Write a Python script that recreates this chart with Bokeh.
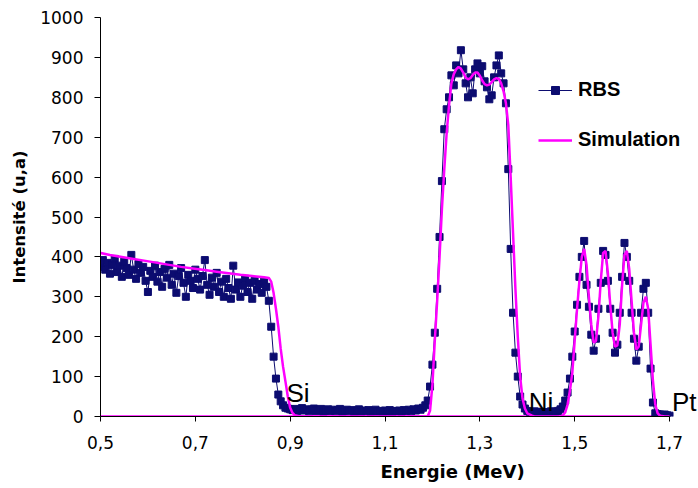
import numpy as np
from bokeh.plotting import figure
from bokeh.models import (ColumnDataSource, FixedTicker, Legend, LegendItem,
                          Label, Range1d, Title)
from bokeh.embed import file_html
from bokeh.resources import INLINE

# ---------------- data ----------------
series_names = ["RBS", "Simulation"]
x_title = "Energie (MeV)"
y_title = "Intensité (u,a)"

# RBS spectrum: channels 0.500 .. 1.700 MeV, step 0.005 MeV
rbs_start = 0.5
rbs_step = 0.005
rbs_y = [
    # 0.500 - 0.850 (Si plateau)
    375, 392, 368, 385, 358, 380, 395, 362, 378, 350,
    388, 372, 355, 405, 368, 345, 382, 360, 375, 340,
    312, 365, 350, 378, 338, 362, 325, 370, 348, 380,
    330, 358, 310, 352, 372, 335, 300, 355, 340, 322,
    368, 345, 318, 352, 392, 330, 305, 348, 325, 360,
    312, 338, 300, 345, 322, 295, 378, 318, 336, 300,
    328, 345, 312, 335, 295, 340, 318, 332, 310, 338,
    325,
    # 0.855 - 0.900 (Si edge)
    290, 225, 150, 95, 55, 38, 28, 22, 20, 18,
    # 0.905 - 1.185
    16, 19, 14, 17, 21, 15, 18, 13, 17, 20,
    14, 16, 19, 12, 15, 18, 14, 17, 13, 16,
    19, 12, 15, 17, 13, 16, 11, 14, 18, 12,
    15, 13, 16, 11, 14, 17, 12, 14, 10, 15,
    12, 16, 11, 14, 13, 15, 12, 16, 14, 17,
    13, 18, 15, 20, 17, 22, 28,
    # 1.190 - 1.240 (Ni rise)
    40, 75, 130, 210, 320, 450, 590, 720, 770, 800, 855,
    # 1.245 - 1.355 (Ni top)
    830, 880, 860, 918, 870, 835, 800, 850, 810, 870,
    885, 860, 878, 840, 825, 795, 805, 850, 880, 905,
    860, 835, 785,
    # 1.360 - 1.400 (Ni edge)
    620, 420, 260, 160, 100, 50, 30, 20, 14,
    # 1.405 - 1.475
    12, 10, 13, 9, 11, 12, 9, 11, 10, 13, 10, 12, 14, 18, 25,
    # 1.480 - 1.700 (Pt)
    40, 60, 95, 150, 213, 280, 350, 400, 440, 330,
    275, 205, 165, 195, 270, 335, 415, 405, 340, 270,
    210, 160, 180, 260, 350, 435, 400, 340, 260, 195,
    140, 175, 260, 320, 335, 260, 120, 35, 8, 6,
    5, 4, 5, 3, 2,
]
rbs_x = np.round(rbs_start + rbs_step * np.arange(len(rbs_y)), 3)

sim_x = [0.495, 0.52, 0.545, 0.57, 0.595, 0.62, 0.645, 0.67, 0.695, 0.72,
         0.745, 0.77, 0.795, 0.82, 0.845, 0.855, 0.86, 0.865, 0.87, 0.875,
         0.88, 0.885, 0.89, 0.895, 0.90, 0.905, 0.91, 0.92,
         1.19, 1.195, 1.20, 1.205, 1.21, 1.215, 1.22, 1.225, 1.23, 1.235,
         1.24, 1.245, 1.25, 1.255, 1.26, 1.265, 1.27, 1.275, 1.28, 1.285,
         1.29, 1.295, 1.30, 1.305, 1.31, 1.315, 1.32, 1.325, 1.33, 1.335,
         1.34, 1.345, 1.35, 1.355, 1.36, 1.365, 1.37, 1.375, 1.38, 1.385,
         1.39, 1.395, 1.40, 1.41, 1.415,
         1.47, 1.475, 1.48, 1.485, 1.49, 1.495, 1.50, 1.505, 1.51, 1.515,
         1.52, 1.525, 1.53, 1.535, 1.54, 1.545, 1.55, 1.555, 1.56, 1.565,
         1.57, 1.575, 1.58, 1.585, 1.59, 1.595, 1.60, 1.605, 1.61, 1.615,
         1.62, 1.625, 1.63, 1.635, 1.64, 1.645, 1.65, 1.655, 1.66, 1.665,
         1.67, 1.675, 1.68, 1.69, 1.70]
sim_y = [411, 405, 400, 395, 390, 385, 380, 375, 371, 367,
         363, 359, 355, 352, 349, 347, 338, 310, 270, 225,
         170, 125, 88, 50, 22, 9, 3, 0,
         0, 15, 80, 190, 290, 400, 520, 620, 710, 780,
         835, 858, 870, 876, 872, 862, 850, 845, 848, 856,
         862, 862, 854, 842, 833, 830, 832, 838, 845, 848,
         846, 835, 815, 785, 730, 600, 460, 320, 200, 100,
         45, 20, 8, 2, 0,
         0, 3, 10, 30, 65, 110, 190, 270, 340, 400,
         420, 380, 300, 230, 185, 190, 250, 340, 410, 415,
         360, 280, 210, 175, 178, 230, 330, 405, 415, 370,
         290, 210, 168, 175, 230, 285, 300, 270, 180, 90,
         30, 8, 2, 0, 0]

x_ticks = [0.5, 0.7, 0.9, 1.1, 1.3, 1.5, 1.7]
x_tick_labels = ["0,5", "0,7", "0,9", "1,1", "1,3", "1,5", "1,7"]
y_ticks = [0, 100, 200, 300, 400, 500, 600, 700, 800, 900, 1000]

peak_labels = ["Si", "Ni", "Pt"]

# ---------------- style ----------------
NAVY = "#0c0c70"
MAGENTA = "#ff00ff"
TICK_FONT = "DejaVu Sans"

p = figure(width=698, height=488, output_backend="svg", toolbar_location=None,
           x_range=Range1d(0.5, 1.7611), y_range=Range1d(0, 1000),
           min_border_left=100, min_border_right=0, min_border_top=17,
           min_border_bottom=71)
p.background_fill_color = "white"
p.border_fill_color = "white"
p.outline_line_color = None
p.xgrid.visible = False
p.ygrid.visible = False

rbs_src = ColumnDataSource(dict(x=rbs_x, y=rbs_y))
sim_src = ColumnDataSource(dict(x=sim_x, y=sim_y))

base = p.line(x=[min(sim_x), max(sim_x)], y=[0, 0], line_color=MAGENTA,
              line_width=2.5)
rbs_line = p.line("x", "y", source=rbs_src, line_color=NAVY, line_width=1)
rbs_pts = p.scatter("x", "y", source=rbs_src, marker="square", size=7,
                    fill_color=NAVY, line_color=NAVY)
sim_line = p.line("x", "y", source=sim_src, line_color=MAGENTA, line_width=2.5)

# axes
xa = p.xaxis[0]
xa.ticker = FixedTicker(ticks=x_ticks)
xa.major_label_overrides = dict(zip(x_ticks, x_tick_labels))
xa.bounds = (min(x_ticks), max(x_ticks))
xa.minor_tick_line_color = None
xa.major_tick_in = 0
xa.major_tick_out = 5
xa.major_label_standoff = 14

ya = p.yaxis[0]
ya.ticker = FixedTicker(ticks=y_ticks)
ya.minor_tick_line_color = None
ya.major_tick_in = 0
ya.major_tick_out = 6
ya.major_label_standoff = 11
ya.axis_label = y_title
ya.axis_label_standoff = 8

for ax in (xa, ya):
    ax.axis_line_color = "black"
    ax.axis_line_width = 1
    ax.major_tick_line_color = "black"
    ax.major_label_text_font = TICK_FONT
    ax.major_label_text_font_size = "17px"
    ax.major_label_text_color = "black"
    ax.axis_label_text_font = TICK_FONT
    ax.axis_label_text_font_size = "16.5px"
    ax.axis_label_text_font_style = "bold"
    ax.axis_label_text_color = "black"

# x-axis title (placed off-centre, as in the original)
xt = Title(text=x_title, align="left", offset=280, standoff=14,
           text_font=TICK_FONT, text_font_size="18px",
           text_font_style="bold", text_color="black")
p.add_layout(xt, "below")

# legend
legend = Legend(items=[LegendItem(label=series_names[0], renderers=[rbs_line, rbs_pts]),
                       LegendItem(label=series_names[1], renderers=[sim_line])],
                location=(438, 265), orientation="vertical",
                glyph_width=34, glyph_height=20, label_height=20,
                label_standoff=6, spacing=27, padding=0, margin=0,
                border_line_color=None, background_fill_alpha=0,
                label_text_font="Liberation Sans", label_text_font_style="bold",
                label_text_font_size="20px", label_text_color="black")
p.add_layout(legend)

# peak annotations
label_pos = [(0.892, 60), (1.403, 37), (1.705, 37)]
for txt, (lx, ly) in zip(peak_labels, label_pos):
    p.add_layout(Label(x=lx, y=ly, text=txt, text_font="Liberation Sans",
                       text_font_size="26px", text_color="black",
                       text_baseline="alphabetic", text_align="left"))

open("out.html", "w").write(file_html(p, INLINE))
